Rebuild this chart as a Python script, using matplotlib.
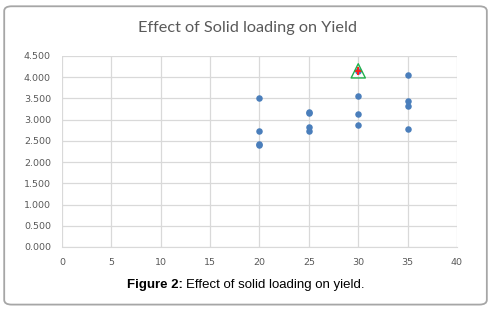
import matplotlib.pyplot as plt
from matplotlib.patches import FancyBboxPatch

# solid loading (%) and yield values
loading = [20, 20, 20, 20, 25, 25, 25, 25, 30, 30, 30, 35, 35, 35, 35]
yields = [3.51, 2.73, 2.40, 2.42, 3.15, 3.18, 2.82, 2.73, 3.56, 3.14, 2.88, 4.05, 3.45, 3.31, 2.79]

# highlighted optimum point
best_x = [30]
best_y = [4.15]

x_ticks = [0, 5, 10, 15, 20, 25, 30, 35, 40]
y_ticks = [0.0, 0.5, 1.0, 1.5, 2.0, 2.5, 3.0, 3.5, 4.0, 4.5]


def main():
    fig = plt.figure(figsize=(4.94, 3.14), dpi=100)
    ax = fig.add_axes([0.1255, 0.2134, 0.7996, 0.6083])

    ax.scatter(loading, yields, s=22, color='#4a7ebb', zorder=3, linewidths=0)
    ax.scatter(best_x, best_y, s=22, color='#4a7ebb', zorder=3, linewidths=0)
    ax.scatter(best_x, best_y, s=28, marker='P', color='#ff2020', zorder=4, linewidths=0)
    ax.scatter(best_x, best_y, s=105, marker='^', facecolors='none',
               edgecolors='#22b14c', linewidths=1.0, zorder=5)

    ax.set_xlim(0, 40)
    ax.set_ylim(0, 4.5)
    ax.set_xticks(x_ticks)
    ax.set_yticks(y_ticks)
    ax.set_yticklabels(['{0:.3f}'.format(v) for v in y_ticks])
    ax.grid(True, color='#d9d9d9', linewidth=0.9)
    ax.set_axisbelow(True)
    for side in ['top', 'right', 'left']:
        ax.spines[side].set_visible(False)
    ax.spines['bottom'].set_color('#d9d9d9')
    ax.tick_params(length=0, labelsize=6.8, labelcolor='#595959', pad=8)

    fig.text(0.5, 0.91, 'Effect of Solid loading on Yield', ha='center', va='center',
             fontsize=11.7, color='#595959', family='Lato')

    # caption: bold prefix followed by normal text
    t = fig.text(0.257, 0.093, 'Figure 2:', ha='left', va='center', fontsize=9.5,
                 weight='bold', family='Liberation Sans')
    fig.canvas.draw()
    bb = t.get_window_extent()
    fig.text(bb.x1 / fig.bbox.width + 0.007, 0.093, 'Effect of solid loading on yield.',
             ha='left', va='center', fontsize=9.5, family='Liberation Sans')

    border = FancyBboxPatch((0.0085, 0.03), 0.977, 0.95, boxstyle='round,pad=0,rounding_size=0.015',
                            transform=fig.transFigure, fill=False, edgecolor='#a6a6a6',
                            linewidth=1.3)
    fig.patches.append(border)

    fig.savefig('out.png', dpi=100)


if __name__ == '__main__':
    main()
